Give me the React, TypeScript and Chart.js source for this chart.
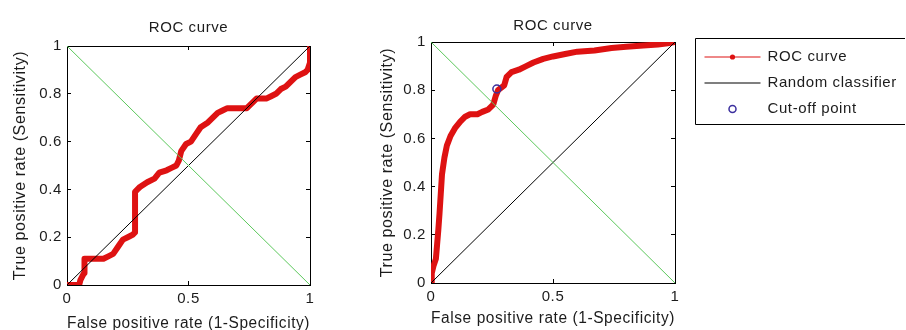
import React, { useEffect, useRef } from "react";
import { Chart, registerables } from "chart.js";

Chart.register(...registerables);

// ---------- data ----------
const xTickValues = [0, 0.5, 1];
const yTickValues = [0, 0.2, 0.4, 0.6, 0.8, 1];

const chanceX = [0, 1];
const chanceY = [0, 1];
const crossY = [1, 0];

const leftFpr = [0, 0.05, 0.055, 0.065, 0.07, 0.072, 0.1, 0.15, 0.17, 0.19, 0.21, 0.23, 0.25, 0.27, 0.28, 0.28, 0.29, 0.3, 0.33, 0.36, 0.38, 0.41, 0.43, 0.45, 0.46, 0.47, 0.49, 0.51, 0.53, 0.55, 0.58, 0.6, 0.62, 0.64, 0.66, 0.7, 0.74, 0.76, 0.78, 0.82, 0.84, 0.86, 0.88, 0.9, 0.92, 0.94, 0.96, 0.98, 0.99, 1, 1];
const leftTpr = [0, 0, 0.02, 0.04, 0.05, 0.11, 0.11, 0.11, 0.12, 0.13, 0.16, 0.19, 0.2, 0.21, 0.22, 0.39, 0.4, 0.41, 0.43, 0.445, 0.47, 0.48, 0.49, 0.5, 0.52, 0.56, 0.59, 0.6, 0.63, 0.66, 0.68, 0.7, 0.72, 0.73, 0.74, 0.74, 0.74, 0.76, 0.78, 0.78, 0.79, 0.8, 0.82, 0.83, 0.85, 0.87, 0.88, 0.89, 0.9, 0.93, 1];

const rightFpr = [0, 0.003, 0.01, 0.02, 0.025, 0.03, 0.035, 0.04, 0.045, 0.055, 0.065, 0.08, 0.1, 0.12, 0.14, 0.16, 0.19, 0.21, 0.235, 0.255, 0.265, 0.275, 0.3, 0.31, 0.33, 0.36, 0.39, 0.42, 0.46, 0.5, 0.55, 0.6, 0.67, 0.74, 0.8, 0.87, 0.93, 0.97, 1];
const rightTpr = [0, 0.04, 0.07, 0.1, 0.16, 0.22, 0.29, 0.37, 0.45, 0.52, 0.57, 0.61, 0.645, 0.67, 0.69, 0.7, 0.7, 0.71, 0.72, 0.74, 0.775, 0.8, 0.82, 0.855, 0.875, 0.885, 0.9, 0.915, 0.93, 0.94, 0.95, 0.96, 0.965, 0.975, 0.98, 0.985, 0.99, 0.995, 1];

const cutoffFpr = [0.27];
const cutoffTpr = [0.805];

const titleText = "ROC curve";
const xTitleText = "False positive rate (1-Specificity)";
const yTitleText = "True positive rate (Sensitivity)";
const rocLabel = "ROC curve";
const randomLabel = "Random classifier";
const cutoffLabel = "Cut-off point";

// ---------- styles ----------
const FONT = "'Liberation Sans', Arial, Helvetica, sans-serif";
const TEXT = "#1c1c1c";
const RED = "#de1212";
const GREEN = "#5cc85c";
const BLUE = "#3b2f9e";
const H = 330;

function zipPoints(xs: number[], ys: number[]) {
  return xs.map((x, i) => ({ x, y: ys[i] }));
}

const spacingPlugin = {
  id: "letterSpacing",
  beforeDraw(chart: any) {
    (chart.ctx as any).letterSpacing = "0.6px";
  },
};

const legendPlugin = {
  id: "rocLegend",
  afterDraw(chart: any, _args: any, opts: any) {
    if (!opts || !opts.display) return;
    const ctx = chart.ctx as CanvasRenderingContext2D;
    const area = chart.chartArea;
    const bx = Math.round(area.right + opts.gap) + 0.5;
    const by = opts.top + 0.5;
    const far = chart.width - 1;
    ctx.save();
    ctx.strokeStyle = "#000";
    ctx.lineWidth = 1;
    // frame: its right side lies past the picture's edge, as in the reference
    ctx.beginPath();
    ctx.moveTo(far, by);
    ctx.lineTo(bx, by);
    ctx.lineTo(bx, by + opts.height);
    ctx.lineTo(far, by + opts.height);
    ctx.stroke();
    const items = chart.data.datasets
      .filter((d: any) => d.label && d.legendRank)
      .sort((a: any, b: any) => a.legendRank - b.legendRank);
    items.forEach((ds: any, i: number) => {
      const y = opts.top + opts.firstRow + i * opts.rowGap;
      const x1 = bx + opts.lineStart;
      const x2 = bx + opts.lineEnd;
      const xm = (x1 + x2) / 2;
      if (ds.legendLine) {
        ctx.strokeStyle = ds.borderColor;
        ctx.lineWidth = 1.2;
        ctx.beginPath();
        ctx.moveTo(x1, y);
        ctx.lineTo(x2, y);
        ctx.stroke();
      }
      if (ds.legendMarker === "dot") {
        ctx.fillStyle = ds.borderColor;
        ctx.beginPath();
        ctx.arc(xm, y, 2.6, 0, Math.PI * 2);
        ctx.fill();
      } else if (ds.legendMarker === "circle") {
        ctx.strokeStyle = ds.pointBorderColor;
        ctx.lineWidth = 1.5;
        ctx.beginPath();
        ctx.arc(xm, y, 3.5, 0, Math.PI * 2);
        ctx.stroke();
      }
      ctx.fillStyle = TEXT;
      ctx.font = `15px ${FONT}`;
      ctx.textAlign = "left";
      ctx.textBaseline = "middle";
      ctx.fillText(ds.label, bx + opts.textStart, y);
    });
    ctx.restore();
  },
};

type Panel = {
  fpr: number[];
  tpr: number[];
  cutoff: boolean;
  yAxisWidth: number;
  rightPad: number;
  titlePadTop: number;
  titlePadBottom: number;
  xAxisHeight: number;
  xTitlePadBottom: number;
  yTitlePadTop: number;
  legend: boolean;
};

function setTicks(values: number[]) {
  return (scale: any) => {
    scale.ticks = values.map((v) => ({ value: v }));
  };
}

function buildConfig(p: Panel): any {
  const datasets: any[] = [];
  if (p.cutoff) {
    datasets.push({
      label: cutoffLabel,
      data: zipPoints(cutoffFpr, cutoffTpr),
      showLine: false,
      pointRadius: 4,
      pointHoverRadius: 4,
      pointBorderColor: BLUE,
      pointBackgroundColor: "rgba(0,0,0,0)",
      pointBorderWidth: 1.5,
      borderColor: BLUE,
      order: 0,
      legendRank: 3,
      legendMarker: "circle",
      legendLine: false,
    });
  }
  datasets.push({
    data: zipPoints(chanceX, crossY),
    borderColor: GREEN,
    borderWidth: 1,
    pointRadius: 0,
    order: 1,
  });
  datasets.push({
    label: randomLabel,
    data: zipPoints(chanceX, chanceY),
    borderColor: "#000",
    borderWidth: 1,
    pointRadius: 0,
    order: 2,
    legendRank: 2,
    legendLine: true,
  });
  datasets.push({
    label: rocLabel,
    data: zipPoints(p.fpr, p.tpr),
    borderColor: RED,
    borderWidth: 6,
    pointRadius: 0,
    borderJoinStyle: "round",
    borderCapStyle: "round",
    order: 3,
    legendRank: 1,
    legendLine: true,
    legendMarker: "dot",
  });

  const tickFont = { family: FONT, size: 15 };
  const titleFont = { family: FONT, size: 16, lineHeight: 1 };
  const gridOpts = {
    display: true,
    drawOnChartArea: false,
    drawTicks: true,
    tickLength: -4,
    color: "#000",
    lineWidth: 1,
  };
  const border = { display: true, color: "#000", width: 1 };

  return {
    type: "line",
    data: { datasets },
    plugins: [spacingPlugin, legendPlugin],
    options: {
      responsive: false,
      animation: false,
      devicePixelRatio: 1,
      layout: { padding: { left: 0, right: p.rightPad, top: 0, bottom: 0 } },
      elements: { line: { tension: 0 } },
      scales: {
        x: {
          type: "linear",
          axis: "x",
          position: "bottom",
          min: 0,
          max: 1,
          afterBuildTicks: setTicks(xTickValues),
          afterFit: (s: any) => {
            s.height = p.xAxisHeight;
          },
          ticks: {
            font: tickFont,
            color: TEXT,
            padding: 9,
            maxRotation: 0,
            autoSkip: false,
            callback: (v: any) => String(v),
          },
          grid: gridOpts,
          border,
          title: {
            display: true,
            text: xTitleText,
            font: titleFont,
            color: TEXT,
            padding: { top: 0, bottom: p.xTitlePadBottom },
          },
        },
        x2: {
          type: "linear",
          axis: "x",
          position: "top",
          min: 0,
          max: 1,
          afterBuildTicks: setTicks(xTickValues),
          afterFit: (s: any) => {
            s.height = 0;
          },
          ticks: { display: false },
          grid: gridOpts,
          border,
        },
        y: {
          type: "linear",
          axis: "y",
          position: "left",
          min: 0,
          max: 1,
          afterBuildTicks: setTicks(yTickValues),
          afterFit: (s: any) => {
            s.width = p.yAxisWidth;
          },
          ticks: {
            font: tickFont,
            color: TEXT,
            padding: 9,
            autoSkip: false,
            callback: (v: any) => String(v),
          },
          grid: gridOpts,
          border,
          title: {
            display: true,
            text: yTitleText,
            font: titleFont,
            color: TEXT,
            padding: { top: p.yTitlePadTop, bottom: 0 },
          },
        },
        y2: {
          type: "linear",
          axis: "y",
          position: "right",
          min: 0,
          max: 1,
          afterBuildTicks: setTicks(yTickValues),
          afterFit: (s: any) => {
            s.width = 0;
          },
          ticks: { display: false },
          grid: gridOpts,
          border,
        },
      },
      plugins: {
        legend: { display: false },
        tooltip: { enabled: false },
        title: {
          display: true,
          text: titleText,
          color: TEXT,
          fullSize: false,
          font: { family: FONT, size: 15, weight: "normal", lineHeight: 1 },
          padding: { top: p.titlePadTop, bottom: p.titlePadBottom },
        },
        rocLegend: {
          display: p.legend,
          gap: 20,
          top: 38,
          height: 86,
          firstRow: 19,
          rowGap: 26,
          lineStart: 9,
          lineEnd: 65,
          textStart: 72,
        },
      },
    },
  };
}

const leftPanel: Panel = {
  fpr: leftFpr,
  tpr: leftTpr,
  cutoff: false,
  yAxisWidth: 67,
  rightPad: 40,
  titlePadTop: 20.5,
  titlePadBottom: 10.5,
  xAxisHeight: 45,
  xTitlePadBottom: -2,
  yTitlePadTop: 13,
  legend: false,
};

const rightPanel: Panel = {
  fpr: rightFpr,
  tpr: rightTpr,
  cutoff: true,
  yAxisWidth: 81,
  rightPad: 231,
  titlePadTop: 18,
  titlePadBottom: 9,
  xAxisHeight: 47,
  xTitlePadBottom: 3,
  yTitlePadTop: 29.5,
  legend: true,
};

function RocCanvas({ panel, left, width }: { panel: Panel; left: number; width: number }) {
  const ref = useRef<HTMLCanvasElement | null>(null);
  useEffect(() => {
    if (!ref.current) return;
    const chart = new Chart(ref.current, buildConfig(panel));
    return () => chart.destroy();
  }, [panel]);
  return (
    <canvas
      ref={ref}
      width={width}
      height={H}
      style={{ position: "absolute", left, top: 0, width, height: H, display: "block" }}
    />
  );
}

export default function App() {
  return (
    <div
      style={{
        position: "fixed",
        left: 0,
        top: 0,
        width: 906,
        height: H,
        background: "#ffffff",
        overflow: "hidden",
      }}
    >
      <RocCanvas panel={leftPanel} left={0} width={350} />
      <RocCanvas panel={rightPanel} left={350} width={556} />
    </div>
  );
}
